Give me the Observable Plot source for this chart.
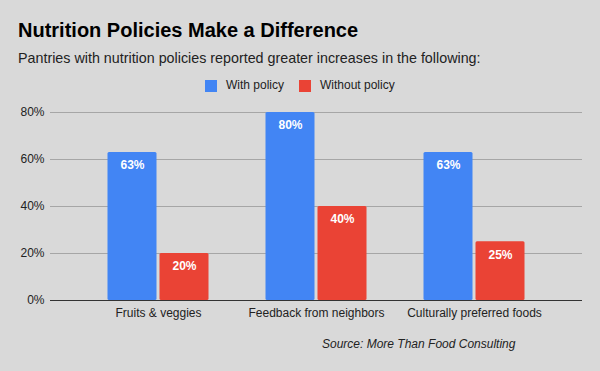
<!DOCTYPE html>
<html><head><meta charset="utf-8">
<script src="https://cdn.jsdelivr.net/npm/d3@7"></script>
<script src="https://cdn.jsdelivr.net/npm/@observablehq/plot@0.6"></script>
<style>
html,body{margin:0;padding:0;background:#d9d9d9;}
#wrap{position:relative;width:600px;height:371px;background:#d9d9d9;font-family:"Liberation Sans",Arial,sans-serif;overflow:hidden;}
#wrap div{line-height:normal;white-space:nowrap;}
#title{position:absolute;left:18px;top:19px;font-size:20px;font-weight:bold;color:#000;}
#sub{position:absolute;left:18px;top:50px;font-size:14.3px;color:#222;}
#legend{position:absolute;left:205px;top:78px;font-size:12px;color:#222;}
#legend .sw{position:absolute;width:12px;height:12px;top:1.5px;}
#legend .tx{position:absolute;top:0;}
#src{position:absolute;left:322px;top:337px;font-size:12px;font-style:italic;color:#222;}
#chart{position:absolute;left:0;top:0;}
</style></head>
<body><div id="wrap">
<div id="chart"></div>
<div id="title">Nutrition Policies Make a Difference</div>
<div id="sub">Pantries with nutrition policies reported greater increases in the following:</div>
<div id="legend"></div>
<div id="src">Source: More Than Food Consulting</div>
</div>
<script>
const categories = ["Fruits & veggies", "Feedback from neighbors", "Culturally preferred foods"];
const series = ["With policy", "Without policy"];
const withPolicy = [0.63, 0.80, 0.63];
const withoutPolicy = [0.20, 0.40, 0.25];
const yTicks = [0, 0.2, 0.4, 0.6, 0.8];
const colors = ["#4285f4", "#ea4335"];

const rowsWith = categories.map((c, i) => ({category: c, series: series[0], value: withPolicy[i]}));
const rowsWithout = categories.map((c, i) => ({category: c, series: series[1], value: withoutPolicy[i]}));

const leg = document.getElementById("legend");
const legOffsets = [0, 94];
series.forEach((s, i) => {
  const sw = document.createElement("span");
  sw.className = "sw";
  sw.style.left = legOffsets[i] + "px";
  sw.style.background = colors[i];
  const tx = document.createElement("span");
  tx.className = "tx";
  tx.style.left = (legOffsets[i] + 21) + "px";
  tx.textContent = s;
  leg.appendChild(sw);
  leg.appendChild(tx);
});

const fmt = d => Math.round(d * 100) + "%";
const chart = Plot.plot({
  width: 600,
  height: 371,
  marginTop: 112,
  marginBottom: 71,
  marginLeft: 50,
  marginRight: 18,
  style: {background: "transparent", fontFamily: "Liberation Sans, Arial, sans-serif", fontSize: "12px", color: "#222"},
  x: {domain: categories, paddingInner: 0, paddingOuter: 0.173, label: null},
  y: {domain: [0, 0.8], label: null},
  color: {domain: series, range: colors},
  marks: [
    Plot.ruleY(yTicks.filter(d => d > 0), {stroke: "#a6a6a6", strokeWidth: 1}),
    Plot.axisY({ticks: yTicks, tickSize: 0, tickPadding: 6, tickFormat: fmt, label: null, fontSize: 12}),
    Plot.axisX({tickSize: 0, tickPadding: 8, label: null, fontSize: 12}),
    Plot.barY(rowsWith, {x: "category", y: "value", fill: "series", insetLeft: 28.5, insetRight: 80.5, rx: 1.5}),
    Plot.barY(rowsWithout, {x: "category", y: "value", fill: "series", insetLeft: 80.5, insetRight: 28.5, rx: 1.5}),
    Plot.text(rowsWith, {x: "category", y: "value", text: d => fmt(d.value), dx: -26, dy: 13, fill: "white", fontWeight: "bold", fontSize: 12}),
    Plot.text(rowsWithout, {x: "category", y: "value", text: d => fmt(d.value), dx: 26, dy: 13, fill: "white", fontWeight: "bold", fontSize: 12}),
    Plot.ruleY([0], {stroke: "#333", strokeWidth: 1})
  ]
});
document.getElementById("chart").appendChild(chart);
</script>
</body></html>
